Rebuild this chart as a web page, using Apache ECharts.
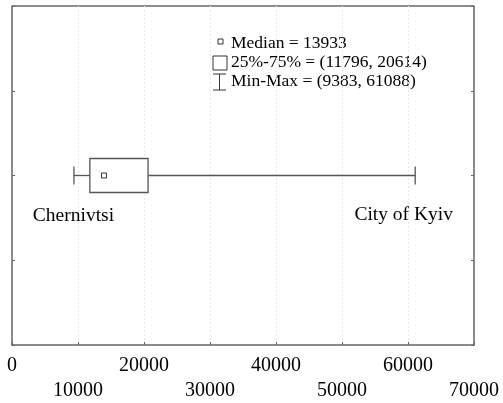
<!DOCTYPE html>
<html><head><meta charset="utf-8">
<script src="https://cdn.jsdelivr.net/npm/echarts@6/dist/echarts.min.js"></script>
<style>html,body{margin:0;padding:0;background:#fff}#c{width:503px;height:403px}</style>
</head><body><div id="c"></div>
<script>
// ---- data ----
const stats = [9383, 11796, 13933, 20614, 61088]; // min, Q1, median, Q3, max
const endLabels = ['Chernivtsi', 'City of Kyiv']; // regions at min and max
const xTicks = [0, 10000, 20000, 30000, 40000, 50000, 60000, 70000];
const yPos = 2;

const chart = echarts.init(document.getElementById('c'));
const font = 'Liberation Serif, Times New Roman, serif';
const lineCol = '#555';

chart.setOption({
  animation: false,
  grid: {left: 12, right: 29, top: 6, bottom: 58, containLabel: false},
  xAxis: {
    type: 'value', min: xTicks[0], max: xTicks[xTicks.length - 1], interval: 10000,
    axisLine: {show: true, lineStyle: {color: '#666', width: 1.5}},
    axisTick: {show: true, inside: true, length: 3, lineStyle: {color: '#666'}},
    splitLine: {show: true, lineStyle: {color: '#e8e8e8', type: [2, 2], width: 1}},
    axisLabel: {
      fontFamily: font, fontSize: 20, color: '#000', margin: 8, lineHeight: 25,
      formatter: v => ((v / 10000) % 2 === 0 ? String(v) : '\n' + v)
    }
  },
  yAxis: [{
    type: 'value', min: 0, max: 4, interval: 1,
    axisLine: {show: true, lineStyle: {color: '#666', width: 1.5}},
    axisTick: {show: true, inside: true, length: 3, lineStyle: {color: '#666'}},
    axisLabel: {show: false}, splitLine: {show: false}
  }, {
    type: 'value', min: 0, max: 4, interval: 1, position: 'right',
    axisLine: {show: true, lineStyle: {color: '#666', width: 1.5}},
    axisTick: {show: true, inside: true, length: 3, lineStyle: {color: '#666'}},
    axisLabel: {show: false}, splitLine: {show: false}
  }],
  graphic: [{
    type: 'line', shape: {x1: 12, y1: 6, x2: 474, y2: 6},
    style: {stroke: '#666', lineWidth: 1.5}
  },
  // legend
  {type: 'rect', shape: {x: 218, y: 39, width: 5, height: 5}, style: {fill: '#fff', stroke: '#333', lineWidth: 1}},
  {type: 'rect', shape: {x: 213, y: 56, width: 14, height: 14}, style: {fill: '#fff', stroke: '#333', lineWidth: 1}},
  {type: 'line', shape: {x1: 219.5, y1: 74, x2: 219.5, y2: 90}, style: {stroke: '#333', lineWidth: 1}},
  {type: 'line', shape: {x1: 213, y1: 74, x2: 226, y2: 74}, style: {stroke: '#333', lineWidth: 1}},
  {type: 'line', shape: {x1: 213, y1: 90, x2: 226, y2: 90}, style: {stroke: '#333', lineWidth: 1}},
  {type: 'text', style: {x: 231, y: 43, verticalAlign: 'middle', text: 'Median = ' + stats[2], font: '17.5px ' + font, fill: '#000'}},
  {type: 'text', style: {x: 231, y: 62, verticalAlign: 'middle', text: '25%-75% = (' + stats[1] + ', ' + stats[3] + ')', font: '17.5px ' + font, fill: '#000'}},
  {type: 'text', style: {x: 231, y: 81, verticalAlign: 'middle', text: 'Min-Max = (' + stats[0] + ', ' + stats[4] + ')', font: '17.5px ' + font, fill: '#000'}}
  ],
  series: [{
    type: 'custom',
    coordinateSystem: 'cartesian2d',
    encode: {x: [0, 1, 2, 3, 4], y: 5},
    data: [[...stats, yPos]],
    renderItem: function (params, api) {
      const y = api.coord([0, api.value(5)])[1];
      const xMin = api.coord([api.value(0), 0])[0];
      const xQ1 = api.coord([api.value(1), 0])[0];
      const xMed = api.coord([api.value(2), 0])[0];
      const xQ3 = api.coord([api.value(3), 0])[0];
      const xMax = api.coord([api.value(4), 0])[0];
      const bh = 17, ch = 9;
      const ls = {stroke: lineCol, lineWidth: 1.3, fill: null};
      return {type: 'group', children: [
        {type: 'line', shape: {x1: xMin, y1: y, x2: xQ1, y2: y}, style: ls},
        {type: 'line', shape: {x1: xQ3, y1: y, x2: xMax, y2: y}, style: ls},
        {type: 'line', shape: {x1: xMin, y1: y - ch, x2: xMin, y2: y + ch}, style: ls},
        {type: 'line', shape: {x1: xMax, y1: y - ch, x2: xMax, y2: y + ch}, style: ls},
        {type: 'rect', shape: {x: xQ1, y: y - bh, width: xQ3 - xQ1, height: 2 * bh}, style: {stroke: lineCol, lineWidth: 1.3, fill: '#fff'}},
        {type: 'rect', shape: {x: xMed - 2.5, y: y - 2.5, width: 5, height: 5}, style: {stroke: '#333', lineWidth: 1, fill: '#fff'}},
        {type: 'text', style: {x: xMin - 0.5, y: y + 40, text: endLabels[0], font: '19.5px ' + font, fill: '#000', align: 'center', verticalAlign: 'middle'}},
        {type: 'text', style: {x: xMax - 11.5, y: y + 39, text: endLabels[1], font: '19.5px ' + font, fill: '#000', align: 'center', verticalAlign: 'middle'}}
      ]};
    }
  }]
});
</script></body></html>
